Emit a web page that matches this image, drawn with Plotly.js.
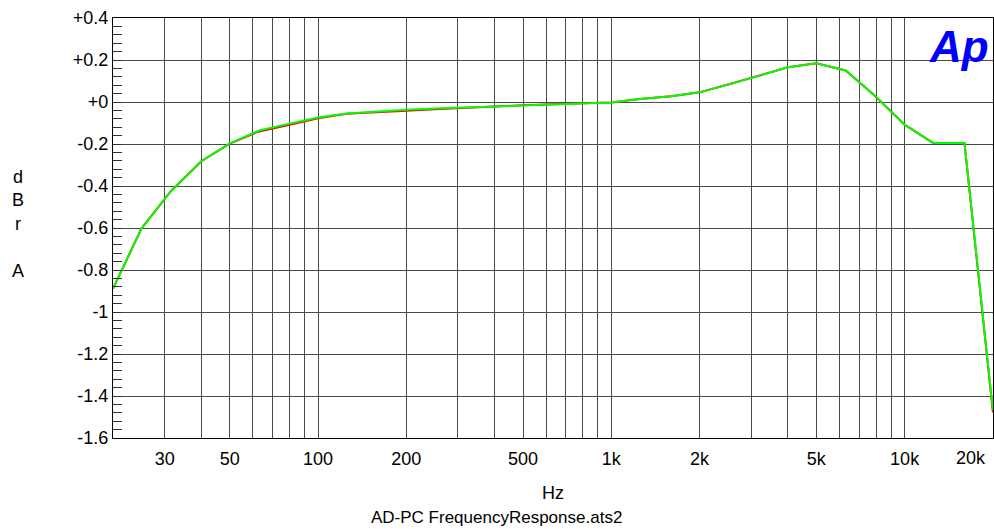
<!DOCTYPE html>
<html>
<head>
<meta charset="utf-8">
<script src="https://cdn.plot.ly/plotly-3.0.1.min.js"></script>
<style>html,body{margin:0;padding:0;background:#fff;}#chart{width:994px;height:529px;}</style>
</head>
<body>
<div id="chart"></div>
<script>
// Frequencies (Hz), 1/3-octave points
const freqs = [20, 25, 31.5, 40, 50, 63, 80, 100, 125, 160, 200, 250, 315, 400, 500, 630, 800, 1000, 1250, 1600, 2000, 2500, 3150, 4000, 5000, 6300, 8000, 10000, 12500, 16000, 20000];
// Channel A (green) level, dBr
const greenDb = [-0.889, -0.603, -0.425, -0.282, -0.197, -0.136, -0.103, -0.074, -0.055, -0.044, -0.037, -0.031, -0.026, -0.021, -0.016, -0.010, -0.006, -0.002, 0.014, 0.027, 0.046, 0.083, 0.122, 0.165, 0.184, 0.150, 0.024, -0.108, -0.195, -0.195, -1.468];
// Channel B (red) level, dBr
const redDb = [-0.889, -0.603, -0.425, -0.282, -0.198, -0.140, -0.109, -0.078, -0.056, -0.047, -0.042, -0.035, -0.027, -0.021, -0.016, -0.010, -0.006, -0.002, 0.014, 0.027, 0.046, 0.083, 0.122, 0.165, 0.184, 0.150, 0.024, -0.108, -0.195, -0.195, -1.478];

const xTickVals = [30, 50, 100, 200, 500, 1000, 2000, 5000, 10000];
const xTickText = ['30', '50', '100', '200', '500', '1k', '2k', '5k', '10k'];
const xEndLabel = '20k';
const xEndVal = 20000;
const xGridVals = [30, 40, 50, 60, 70, 80, 90, 100, 200, 300, 400, 500, 600, 700, 800, 900, 1000, 2000, 3000, 4000, 5000, 6000, 7000, 8000, 9000, 10000, 20000];
const yTickVals = [0.4, 0.2, 0, -0.2, -0.4, -0.6, -0.8, -1, -1.2, -1.4, -1.6];
const yTickText = ['+0.4', '+0.2', '+0', '-0.2', '-0.4', '-0.6', '-0.8', '-1', '-1.2', '-1.4', '-1.6'];

const FONT = 'Liberation Sans, Arial, sans-serif';
const GRID = '#4a4a4a';

const traces = [
  {x: freqs, y: redDb, type: 'scatter', mode: 'lines', line: {color: '#ff0000', width: 2}, cliponaxis: false, hoverinfo: 'x+y'},
  {x: freqs, y: greenDb, type: 'scatter', mode: 'lines', line: {color: '#00ff00', width: 2}, cliponaxis: false, hoverinfo: 'x+y'}
];

const layout = {
  width: 994, height: 529,
  margin: {l: 113, r: 1, t: 18, b: 91},
  paper_bgcolor: '#ffffff', plot_bgcolor: '#ffffff',
  showlegend: false,
  font: {family: FONT, size: 18, color: '#000'},
  xaxis: {
    type: 'log',
    range: [Math.log10(20), Math.log10(20000) + 0.0003],
    tickmode: 'array', tickvals: xTickVals, ticktext: xTickText,
    showgrid: true, gridcolor: GRID, gridwidth: 1,
    ticks: '', showline: true, linecolor: '#000', linewidth: 1, mirror: true,
    zeroline: false, ticklabelstandoff: 4,
    tickfont: {family: FONT, size: 18, color: '#000'},
    minor: {tickmode: 'array', tickvals: xGridVals, showgrid: true, gridcolor: GRID, gridwidth: 1, ticks: ''},
    title: {text: 'Hz', font: {family: FONT, size: 18, color: '#000'}, standoff: 18}
  },
  yaxis: {
    range: [-1.6, 0.4],
    tickmode: 'array', tickvals: yTickVals, ticktext: yTickText,
    showgrid: true, gridcolor: GRID, gridwidth: 1,
    ticks: 'inside', ticklen: 9, tickcolor: '#333',
    showline: true, linecolor: '#000', linewidth: 1, mirror: true,
    zeroline: false,
    tickfont: {family: FONT, size: 18, color: '#000'},
    minor: {dtick: 0.04, tick0: 0, ticks: 'inside', ticklen: 9, tickcolor: '#333', showgrid: false}
  },
  annotations: [
    {text: xEndLabel, xref: 'x', yref: 'paper', x: Math.log10(xEndVal), y: 0, xanchor: 'right', yanchor: 'top',
     xshift: -5, yshift: -8, showarrow: false, font: {family: FONT, size: 18, color: '#000'}},
    {text: 'd<br>B<br>r<br><br>A', xref: 'paper', yref: 'paper', x: -0.108, y: 0.51, xanchor: 'center', yanchor: 'middle',
     showarrow: false, font: {family: FONT, size: 18, color: '#000'}, align: 'center'},
    {text: 'AD-PC FrequencyResponse.ats2', xref: 'paper', yref: 'paper', x: 0.436, y: -0.19, xanchor: 'center', yanchor: 'middle',
     showarrow: false, font: {family: FONT, size: 17, color: '#000'}},
    {text: '<b><i>Ap</i></b>', xref: 'paper', yref: 'paper', x: 0.998, y: 0.995, xanchor: 'right', yanchor: 'top',
     showarrow: false, font: {family: FONT, size: 44, color: '#0000ff'}}
  ]
};

Plotly.newPlot('chart', traces, layout, {displayModeBar: false, staticPlot: true});
</script>
</body>
</html>
